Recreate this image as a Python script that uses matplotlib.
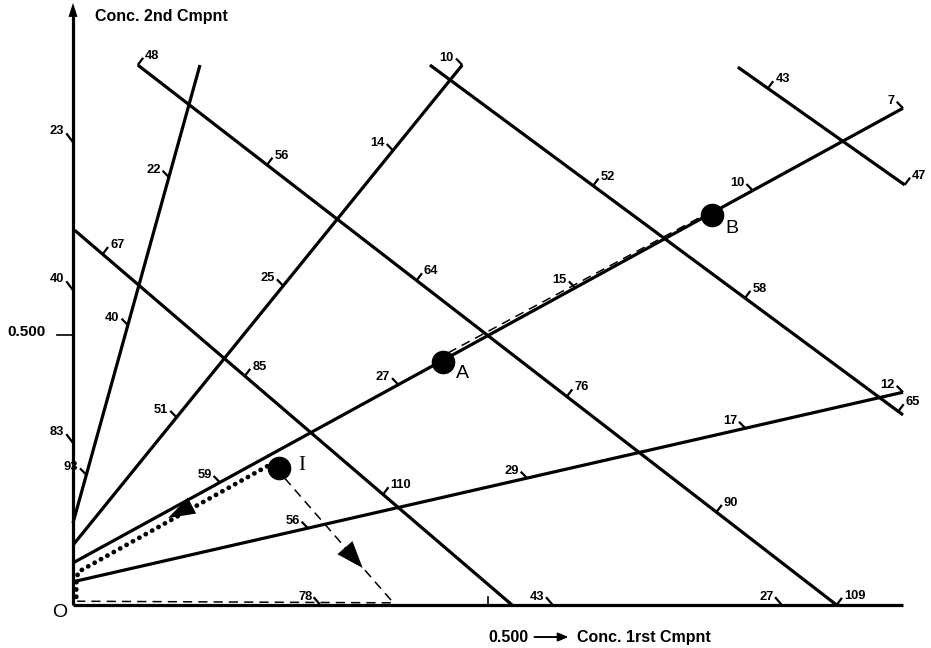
import numpy as np
import matplotlib
matplotlib.use('Agg')
import matplotlib.pyplot as plt
from matplotlib.patches import Polygon

plt.rcParams['font.family'] = ['Liberation Sans', 'DejaVu Sans']

# ---------------- data (concentration units, 0.500 marks on both axes) -------------
# straight operating / equilibrium lines: start and end points
line_x0 = [0.000, 0.000, 0.000, 0.000, 0.078, 0.002, 0.430, 0.801]
line_y0 = [0.152, 0.111, 0.078, 0.043, 1.000, 0.694, 1.000, 0.996]
line_x1 = [0.153, 0.469, 1.000, 1.000, 0.920, 0.529, 1.000, 1.002]
line_y1 = [1.000, 1.000, 0.920, 0.394, 0.000, 0.000, 0.352, 0.778]

# graduation marks along the lines: line index, fraction along the line, label
tick_line = [0, 0, 0,
             1, 1, 1, 1,
             2, 2, 2, 2, 2,
             3, 3, 3, 3,
             4, 4, 4, 4, 4, 4,
             5, 5, 5,
             6, 6, 6,
             7, 7]
tick_frac = [0.105, 0.432, 0.755,
             0.266, 0.540, 0.822, 1.0,
             0.177, 0.392, 0.605, 0.819, 1.0,
             0.283, 0.547, 0.810, 1.0,
             0.0, 0.185, 0.399, 0.614, 0.828, 1.0,
             0.064, 0.389, 0.705,
             0.345, 0.666, 0.99,
             0.18, 1.0]
tick_label = ['93', '40', '22',
              '51', '25', '14', '10',
              '59', '27', '15', '10', '7',
              '56', '29', '17', '12',
              '48', '56', '64', '76', '90', '109',
              '67', '85', '110',
              '52', '58', '65',
              '43', '47']

# graduation marks on the axes
yaxis_tick_val = [0.857, 0.583, 0.300]
yaxis_tick_lab = ['23', '40', '83']
xaxis_tick_val = [0.298, 0.578, 0.854]
xaxis_tick_lab = ['78', '43', '27']

# compositions
point_lab = ['I', 'A', 'B']
point_x = [0.248, 0.446, 0.770]
point_y = [0.254, 0.450, 0.722]

# paths
dash_BA_x = [0.452, 0.758]
dash_BA_y = [0.467, 0.720]
dot_path_x = [0.234, 0.006, 0.004, 0.004]
dot_path_y = [0.257, 0.061, 0.040, 0.009]
dash_I_x = [0.255, 0.386, 0.005]
dash_I_y = [0.235, 0.004, 0.007]

# ---------------- figure ----------------
fig = plt.figure(figsize=(9.31, 6.48), dpi=100)
ax = fig.add_axes([0, 0, 1, 1])
ax.set_xlim(-73 / 830, (931 - 73) / 830)
ax.set_ylim((605 - 648) / 540, 605 / 540)
ax.axis('off')
fig.canvas.draw()

to_px = ax.transData.transform
to_data = ax.transData.inverted().transform

LW = 2.3
TFS = 9.3
tfont = dict(fontsize=TFS, fontweight='bold', color='black')

# axes
ax.plot([0, 0], [0, 1.100], color='black', lw=LW, solid_capstyle='butt')
ax.plot([0, 1.0], [0, 0], color='black', lw=LW, solid_capstyle='butt')


def poly_head(tip, direction, length, half_w):
    t = to_px(tip)
    u = np.asarray(direction, float)
    u = u / np.hypot(*u)
    p = np.array([-u[1], u[0]])
    base = t - length * u
    pts = np.array([t, base + half_w * p, base - half_w * p])
    ax.add_patch(Polygon(to_data(pts), closed=True, color='black', lw=0))


# y axis arrow
poly_head((0, 1.115), (0, 1), 14, 4.5)

# 0.500 marks
y5 = to_px((0, 0.5))
a = to_data([y5 + [-16, 0], y5])
ax.plot(a[:, 0], a[:, 1], color='black', lw=1.2)
ax.text(*to_data(y5 + [-27, 3]), '0.500', ha='right', va='center',
        fontsize=11, fontweight='bold')
x5 = to_px((0.5, 0))
a = to_data([x5, x5 + [0, 8]])
ax.plot(a[:, 0], a[:, 1], color='black', lw=1.2)

# lines
for x0, y0, x1, y1 in zip(line_x0, line_y0, line_x1, line_y1):
    ax.plot([x0, x1], [y0, y1], color='black', lw=LW, solid_capstyle='butt')

UP_LEFT = np.array([-0.70, 0.72])
UP_RIGHT = np.array([0.60, 0.80])

# line graduations
for li, f, lab in zip(tick_line, tick_frac, tick_label):
    p0 = to_px((line_x0[li], line_y0[li]))
    p1 = to_px((line_x1[li], line_y1[li]))
    ascending = (p1 - p0)[1] > 0
    n = UP_LEFT if ascending else UP_RIGHT
    P = p0 + f * (p1 - p0)
    E = P + 9 * n
    seg = to_data([P, E])
    ax.plot(seg[:, 0], seg[:, 1], color='black', lw=1.6, solid_capstyle='butt')
    if ascending:
        anc = E + [-2, 1]
        ha = 'right'
    else:
        anc = E + [2, 2]
        ha = 'left'
    ax.text(*to_data(anc), lab, ha=ha, va='center', **tfont)

# axis graduations
for v, lab in zip(yaxis_tick_val, yaxis_tick_lab):
    P = to_px((0, v))
    seg = to_data([P, P + [-6, 8]])
    ax.plot(seg[:, 0], seg[:, 1], color='black', lw=1.6)
    ax.text(*to_data(P + [-9, 11]), lab, ha='right', va='center', **tfont)
for v, lab in zip(xaxis_tick_val, xaxis_tick_lab):
    P = to_px((v, 0))
    seg = to_data([P, P + [-6, 7]])
    ax.plot(seg[:, 0], seg[:, 1], color='black', lw=1.6)
    ax.text(*to_data(P + [-8, 8]), lab, ha='right', va='center', **tfont)

# paths
ax.plot(dash_BA_x, dash_BA_y, color='black', lw=1.1, dashes=(6, 4))
ax.plot(dot_path_x, dot_path_y, color='black', lw=3.4,
        linestyle=(0, (0.05, 1.5)), dash_capstyle='round')
ax.plot(dash_I_x, dash_I_y, color='black', lw=1.1, dashes=(6, 4))

# arrow heads on the paths
tip = (0.1145, 0.161)
poly_head(tip, to_px(tip) - to_px((dot_path_x[0], dot_path_y[0])), 27, 9)
tip = (0.349, 0.0685)
poly_head(tip, to_px((dash_I_x[1], dash_I_y[1])) - to_px((dash_I_x[0], dash_I_y[0])), 27, 10)

# points
ax.plot(point_x, point_y, 'o', color='black', markersize=16)
lab_off = {'I': (23, 2), 'A': (19, -11), 'B': (20, -13)}
for lab, x, y in zip(point_lab, point_x, point_y):
    P = to_px((x, y)) + lab_off[lab]
    if lab == 'I':
        ax.text(*to_data(P), lab, ha='center', va='center', fontsize=15,
                family=['Liberation Serif', 'DejaVu Serif'])
    else:
        ax.text(*to_data(P), lab, ha='center', va='center', fontsize=14)

# axis titles
ax.text(0.0265, 1.089, 'Conc. 2nd Cmpnt', ha='left', va='center',
        fontsize=11.5, fontweight='bold')
ax.text(-0.0157, -0.0148, 'O', ha='center', va='center', fontsize=14)
ax.text(0.5, -0.0593, '0.500', ha='left', va='center', fontsize=11.5, fontweight='bold')
ax.annotate('', xy=(0.597, -0.0593), xytext=(0.556, -0.0593),
            arrowprops=dict(arrowstyle='-|>,head_length=0.6,head_width=0.25',
                            color='black', lw=1.4, shrinkA=0, shrinkB=0))
ax.text(0.607, -0.0593, 'Conc. 1rst Cmpnt', ha='left', va='center',
        fontsize=11.5, fontweight='bold')

fig.savefig('out.png', dpi=100)
